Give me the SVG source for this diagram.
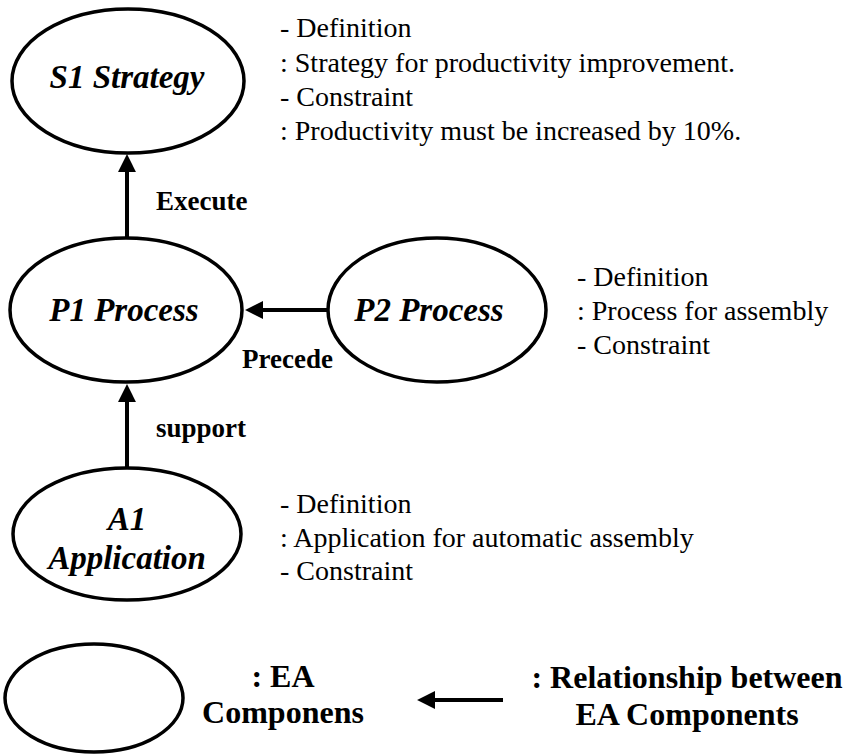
<svg xmlns="http://www.w3.org/2000/svg" width="846" height="754" viewBox="0 0 846 754">
  <style>
    .node { fill: #fff; stroke: #000; stroke-width: 3.5; }
    .name { font-family: "Liberation Serif", "Times New Roman", serif; font-size: 33px; font-weight: bold; font-style: italic; text-anchor: middle; fill: #000; }
    .rel { font-family: "Liberation Serif", "Times New Roman", serif; font-size: 27px; font-weight: bold; fill: #000; }
    .desc { font-family: "Liberation Serif", "Times New Roman", serif; font-size: 28px; fill: #000; }
    .legend { font-family: "Liberation Serif", "Times New Roman", serif; font-size: 32px; font-weight: bold; text-anchor: middle; fill: #000; }
    .edge { stroke: #000; stroke-width: 4; fill: none; marker-end: url(#head); }
  </style>
  <defs>
    <!-- filled triangle head; tip sits 8px beyond the line end -->
    <marker id="head" viewBox="0 0 10 10" refX="5.6" refY="5" markerWidth="4.5" markerHeight="4.5" orient="auto" markerUnits="strokeWidth">
      <path d="M0,0 L10,5 L0,10 z" fill="#000"/>
    </marker>
  </defs>

  <!-- connectors -->
  <g id="connectors">
    <line class="edge" x1="127" y1="238" x2="127" y2="162"/>
    <line class="edge" x1="328" y1="310" x2="253" y2="310"/>
    <line class="edge" x1="127" y1="468" x2="127" y2="392"/>
    <line class="edge" x1="503" y1="700" x2="425" y2="700"/>
    <text class="rel" x="156" y="210">Execute</text>
    <text class="rel" x="242" y="368">Precede</text>
    <text class="rel" x="156" y="437">support</text>
  </g>

  <g id="s1">
    <ellipse class="node" cx="128" cy="81" rx="116" ry="72"/>
    <text class="name" x="127" y="88">S1 Strategy</text>
    <text class="desc" x="280" y="37">- Definition</text>
    <text class="desc" x="280" y="72">: Strategy for productivity improvement.</text>
    <text class="desc" x="280" y="106">- Constraint</text>
    <text class="desc" x="280" y="140">: Productivity must be increased by 10%.</text>
  </g>

  <g id="p1">
    <ellipse class="node" cx="126" cy="310" rx="116" ry="72"/>
    <text class="name" x="124" y="321">P1 Process</text>
  </g>

  <g id="p2">
    <ellipse class="node" cx="437" cy="310" rx="109" ry="72"/>
    <text class="name" x="429" y="321">P2 Process</text>
    <text class="desc" x="577" y="286">- Definition</text>
    <text class="desc" x="577" y="320">: Process for assembly</text>
    <text class="desc" x="577" y="354">- Constraint</text>
  </g>

  <g id="a1">
    <ellipse class="node" cx="127" cy="534" rx="114" ry="66"/>
    <text class="name" x="127" y="530">A1</text>
    <text class="name" x="127" y="569">Application</text>
    <text class="desc" x="280" y="513">- Definition</text>
    <text class="desc" x="280" y="547">: Application for automatic assembly</text>
    <text class="desc" x="280" y="580">- Constraint</text>
  </g>

  <g id="legend">
    <ellipse class="node" cx="94" cy="698" rx="89" ry="54"/>
    <text class="legend" x="283" y="687">: EA</text>
    <text class="legend" x="283" y="723">Componens</text>
    <text class="legend" x="687" y="688">: Relationship between</text>
    <text class="legend" x="687" y="725">EA Components</text>
  </g>
</svg>
